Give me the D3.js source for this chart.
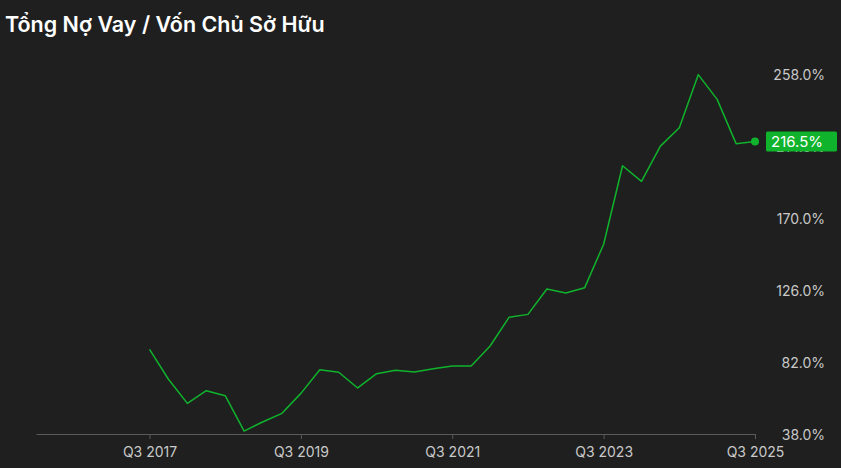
<!DOCTYPE html>
<html>
<head>
<meta charset="utf-8">
<script src="https://cdn.jsdelivr.net/npm/d3@7"></script>
<style>
  html, body { margin: 0; padding: 0; background: #1f1f1f; }
  svg { display: block; }
</style>
</head>
<body>
<svg id="chart"></svg>
<script>
// quarters shown on the chart, Q3 2017 .. Q3 2025
var quarters = [
  "Q3 2017","Q4 2017","Q1 2018","Q2 2018","Q3 2018","Q4 2018","Q1 2019","Q2 2019",
  "Q3 2019","Q4 2019","Q1 2020","Q2 2020","Q3 2020","Q4 2020","Q1 2021","Q2 2021",
  "Q3 2021","Q4 2021","Q1 2022","Q2 2022","Q3 2022","Q4 2022","Q1 2023","Q2 2023",
  "Q3 2023","Q4 2023","Q1 2024","Q2 2024","Q3 2024","Q4 2024","Q1 2025","Q2 2025",
  "Q3 2025"
];
// total debt / equity, %
var ratio = [
  89.7, 71.4, 56.7, 64.4, 61.4, 39.8, 45.5, 50.6,
  62.8, 77.2, 75.7, 66.1, 74.8, 76.9, 75.8, 77.8,
  79.5, 79.5, 91.7, 109.2, 111.0, 126.5, 124.0, 127.3,
  153.8, 201.7, 192.2, 213.7, 224.9, 257.3, 242.2, 215.2,
  216.5
];
var xTickLabels = ["Q3 2017", "Q3 2019", "Q3 2021", "Q3 2023", "Q3 2025"];
var yTicks = [38, 82, 126, 170, 214, 258];

var width = 841, height = 468;
var green = "#10b32c";

var svg = d3.select("#chart")
    .attr("width", width)
    .attr("height", height);

svg.append("rect")
    .attr("width", width)
    .attr("height", height)
    .attr("fill", "#1f1f1f");

// title
svg.append("text")
    .attr("x", 5)
    .attr("y", 32)
    .attr("fill", "#ffffff")
    .attr("font-family", "Inter, sans-serif")
    .attr("font-weight", 600)
    .attr("font-size", 21.5)
    .text("Tổng Nợ Vay / Vốn Chủ Sở Hữu");

// axis starts six quarters before the first point
var x = d3.scaleLinear()
    .domain([-6, quarters.length - 1])
    .range([36, 755]);

var y = d3.scaleLinear()
    .domain([38, 258])
    .range([434, 73.5]);

// x axis
var xAxis = d3.axisBottom(x)
    .tickValues(xTickLabels.map(function(q) { return quarters.indexOf(q); }))
    .tickFormat(function(i) { return quarters[i]; })
    .tickSize(5)
    .tickSizeOuter(0);

var gx = svg.append("g")
    .attr("transform", "translate(0,434)")
    .call(xAxis);

gx.select(".domain").attr("stroke", "#5a5a5a");
gx.selectAll(".tick line").attr("stroke", "#5a5a5a");
gx.selectAll(".tick text")
    .attr("fill", "#c9c9c9")
    .attr("font-family", "Inter, sans-serif")
    .attr("font-size", 14)
    .attr("dy", "1.05em");

// y axis labels on the right, no line
var yAxis = d3.axisRight(y)
    .tickValues(yTicks)
    .tickFormat(function(d) { return d3.format(".1f")(d) + "%"; })
    .tickSize(0);

var gy = svg.append("g")
    .attr("transform", "translate(825,0)")
    .call(yAxis);

gy.select(".domain").remove();
gy.selectAll(".tick text")
    .attr("x", 0)
    .attr("dy", "0.42em")
    .attr("text-anchor", "end")
    .attr("fill", "#c9c9c9")
    .attr("font-family", "Inter, sans-serif")
    .attr("font-size", 14);

// the line
var line = d3.line()
    .x(function(d, i) { return x(i); })
    .y(function(d) { return y(d); });

svg.append("path")
    .datum(ratio)
    .attr("d", line)
    .attr("fill", "none")
    .attr("stroke", green)
    .attr("stroke-width", 1.5)
    .attr("stroke-linejoin", "round");

// last value marker and label (drawn over the 214.0% tick, as in the source)
var last = ratio.length - 1;

svg.append("circle")
    .attr("cx", x(last))
    .attr("cy", y(ratio[last]))
    .attr("r", 4)
    .attr("fill", green);

svg.append("rect")
    .attr("x", 766)
    .attr("y", y(ratio[last]) - 10)
    .attr("width", 71)
    .attr("height", 20)
    .attr("rx", 1.5)
    .attr("fill", green);

svg.append("text")
    .attr("x", 771)
    .attr("y", y(ratio[last]))
    .attr("dy", "0.36em")
    .attr("fill", "#ffffff")
    .attr("font-family", "Inter, sans-serif")
    .attr("font-size", 15)
    .text(d3.format(".1f")(ratio[last]) + "%");
</script>
</body>
</html>
